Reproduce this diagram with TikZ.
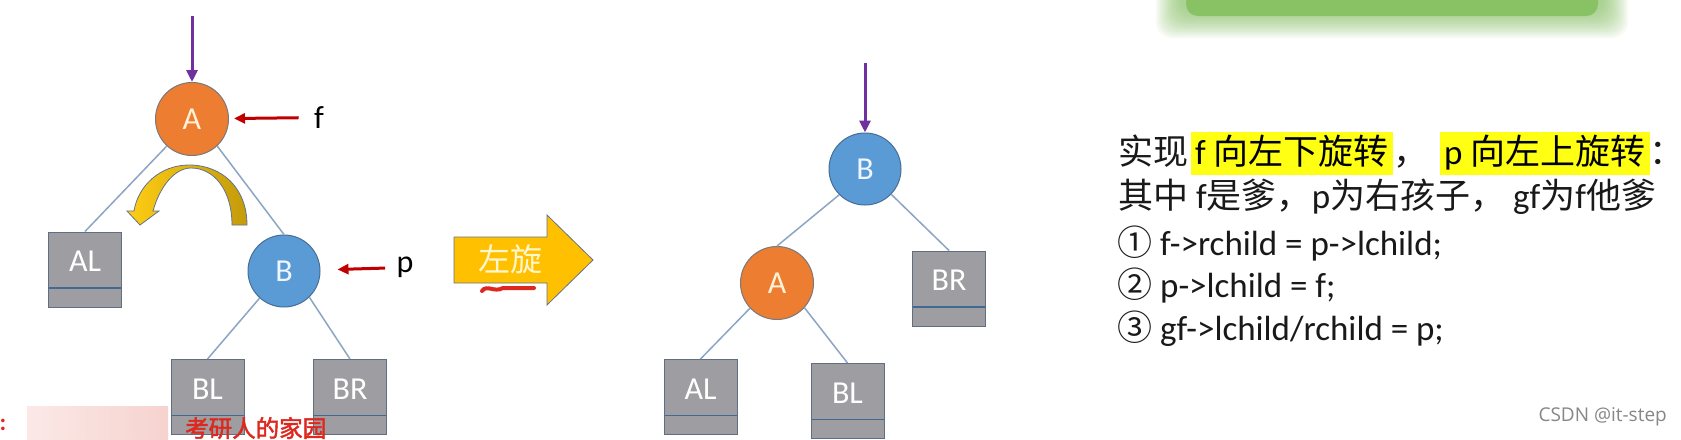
\documentclass[tikz,border=0pt]{standalone}
\usepackage{fontspec}
\setmainfont{Carlito}
\newfontfamily\cjk{Noto Sans CJK SC}
\newfontfamily\cjkbold[FakeBold=2]{Noto Sans CJK SC}
\newfontfamily\wmfont{Open Sans}
\usetikzlibrary{arrows.meta,calc}
\definecolor{cA}{RGB}{237,125,49}
\definecolor{cAline}{RGB}{120,120,125}
\definecolor{cAtxt}{RGB}{255,242,215}
\definecolor{cB}{RGB}{91,155,213}
\definecolor{cBline}{RGB}{70,110,150}
\definecolor{cBtxt}{RGB}{240,246,255}
\definecolor{cBox}{RGB}{158,158,162}
\definecolor{cBoxline}{RGB}{95,110,130}
\definecolor{cSep}{RGB}{65,105,145}
\definecolor{cEdge}{RGB}{140,165,195}
\definecolor{cPurp}{RGB}{112,48,160}
\definecolor{cRed}{RGB}{192,0,0}
\definecolor{cYel}{RGB}{255,192,0}
\definecolor{cYelL}{RGB}{255,205,20}
\definecolor{cGold}{RGB}{195,155,10}
\definecolor{cArrLine}{RGB}{100,115,140}
\definecolor{cArrTxt}{RGB}{255,246,205}
\definecolor{hlyellow}{RGB}{255,255,20}
\definecolor{cGreen}{RGB}{128,190,88}
\definecolor{wmred}{RGB}{222,40,30}
\definecolor{wmpink}{RGB}{245,200,195}
\definecolor{csdn}{RGB}{135,135,135}
\definecolor{txt}{RGB}{25,25,25}
\newcommand\zh[1]{{\cjk\fontsize{35}{42}\selectfont #1}}
\newcommand\treebox[4]{%
  \node[boxst] (#1) at (#2,#3) {};
  \node[boxlbl] at ([yshift=8pt]#1.center) {#4};}
\begin{document}
\begin{tikzpicture}[x=1pt,y=-1pt,
  circA/.style={circle, draw=cAline, line width=1pt, fill=cA, minimum size=73pt, inner sep=0pt,
    text=cAtxt, font=\fontsize{32}{32}\selectfont},
  circB/.style={circle, draw=cBline, line width=1pt, fill=cB, minimum size=72pt, inner sep=0pt,
    text=cBtxt, font=\fontsize{32}{32}\selectfont},
  boxst/.style={rectangle, draw=cBoxline, line width=1pt, fill=cBox, minimum width=73pt,
    minimum height=75pt, inner sep=0pt,
    path picture={\draw[cSep, line width=1.3pt]
      ($(path picture bounding box.south west)+(0pt,19pt)$) --
      ($(path picture bounding box.south east)+(0pt,19pt)$);}},
  boxlbl/.style={text=white, font=\fontsize{32}{32}\selectfont, inner sep=0pt},
  edge/.style={draw=cEdge, line width=1.5pt},
  purp/.style={draw=cPurp, line width=3pt, -{Triangle[length=12pt,width=11pt]}},
  redarr/.style={draw=cRed, line width=3pt, -{Triangle[length=11pt,width=10pt]}},
  ptr/.style={text=black, font=\fontsize{32}{32}\selectfont},
  hl/.style={fill=hlyellow, inner xsep=4pt, inner ysep=0pt, text height=32pt, text depth=11pt},
  plain/.style={inner sep=0pt, text=txt},
  line/.style={anchor=base west, inner sep=0pt, text=txt, font=\fontsize{35}{42}\selectfont}
]
\useasboundingbox (0,0) rectangle (1681,439);
\fill[white] (0,0) rectangle (1681,439);

% green blurred bar at top
\foreach \d in {24,22,...,0} {
  \fill[cGreen, opacity=0.07, rounded corners=16pt] (1180-\d,-30) rectangle (1604+\d,14+\d);
}
\fill[cGreen, opacity=0.8, rounded corners=12pt] (1186,-30) rectangle (1598,16);

% ---------- left tree ----------
\node[circA] (A1) at (192,119) {A};
\node[circB] (B1) at (284,271) {B};
\treebox{AL1}{85}{269.5}{AL}
\treebox{BL1}{207.5}{397}{BL}
\treebox{BR1}{350}{397}{BR}
\draw[edge] (A1.-133) -- (AL1.north);
\draw[edge] (A1.-47) -- (B1.north);
\draw[edge] (B1.-132) -- (BL1.north);
\draw[edge] (B1.-46) -- (BR1.north);

\coordinate (topA) at (192,16);
\draw[purp] (topA) -- (A1.north);
\node[ptr] (flab) at (319,117.5) {f};
\node[ptr] (plab) at (405,267.5) {p};
\draw[redarr, shorten <=12pt, shorten >=5pt] (flab) -- (A1);
\draw[redarr, shorten <=8pt, shorten >=17pt] (plab) -- (B1);

% curved yellow arrow
\shadedraw[left color=cYelL, right color=cGold, draw=cArrLine, line width=0.8pt]
  (247,225) .. controls (247,188) and (222,165) .. (189,165)
  .. controls (160,165) and (138,186) .. (134,211)
  -- (127,211) -- (140,225) -- (159,211) -- (153,211)
  .. controls (160,186) and (175,168) .. (191,168)
  .. controls (214,168) and (232,190) .. (232,225) -- cycle;

% ---------- block arrow ----------
\filldraw[fill=cYel, draw=cArrLine, line width=0.8pt]
  (454,237) -- (547,237) -- (547,215) -- (593,260) -- (547,305) -- (547,283) -- (454,283) -- cycle;
\node[text=cArrTxt, inner sep=0pt, font=\cjk\fontsize{32}{32}\selectfont] (rot) at (510,259) {左旋};
\draw[wmred, line width=4pt, line cap=round]
  (482,291) .. controls (487,284) and (494,293) .. (503,288) -- (534,288);

% ---------- right tree ----------
\node[circB] (B2) at (865,169) {B};
\node[circA] (A2) at (777,283) {A};
\treebox{BR2}{949}{288.5}{BR}
\treebox{AL2}{700.5}{397}{AL}
\treebox{BL2}{847.5}{401}{BL}
\draw[edge] (B2.-135) -- (A2.north);
\draw[edge] (B2.-44) -- (BR2.north);
\draw[edge] (A2.-137) -- (AL2.north);
\draw[edge] (A2.-42) -- (BL2.north);
\coordinate (topB) at (865,63);
\draw[purp] (topB) -- (B2.north);

% ---------- text ----------
\node[plain, anchor=base west] (l1a) at (1118,164) {\zh{实现}};
\node[hl, anchor=base west, font=\fontsize{35}{42}\selectfont] (l1b) at (1191,164) {f \zh{向左下旋转}};
\node[plain, anchor=base west] (l1c) at (l1b.base east) {\zh{，}};
\node[hl, anchor=base west, font=\fontsize{35}{42}\selectfont] (l1d) at (1440,164) {p \zh{向左上旋转}};
\node[plain, anchor=base west] (l1e) at (l1d.base east) {\zh{：}};
\node[line] (l2) at (1118,208) {\zh{其中} f\zh{是爹，}p\zh{为右孩子，}\hspace{8pt}gf\zh{为}f\zh{他爹}};
\node[line] (l3) at (1117,255) {\zh{①} f->rchild = p->lchild;};
\node[line] (l4) at (1117,297) {\zh{②} p->lchild = f;};
\node[line] (l5) at (1117,340) {\zh{③} gf->lchild/rchild = p;};

% ---------- watermarks ----------
\shade[left color=wmpink!50, right color=wmpink, opacity=0.8] (27,406) rectangle (168,445);
\node[text=wmred, inner sep=0pt, font=\bfseries\fontsize{24}{24}\selectfont] (colon) at (3,425) {:};
\node[text=wmred, inner sep=0pt, anchor=base west, font=\cjkbold\fontsize{23.5}{24}\selectfont] (wm) at (185,437) {考研人的家园};
\node[text=csdn, inner sep=0pt, anchor=east, font=\wmfont\fontsize{19}{19}\selectfont] (csdn) at (1667,417) {CSDN @it-step};
\end{tikzpicture}
\end{document}
